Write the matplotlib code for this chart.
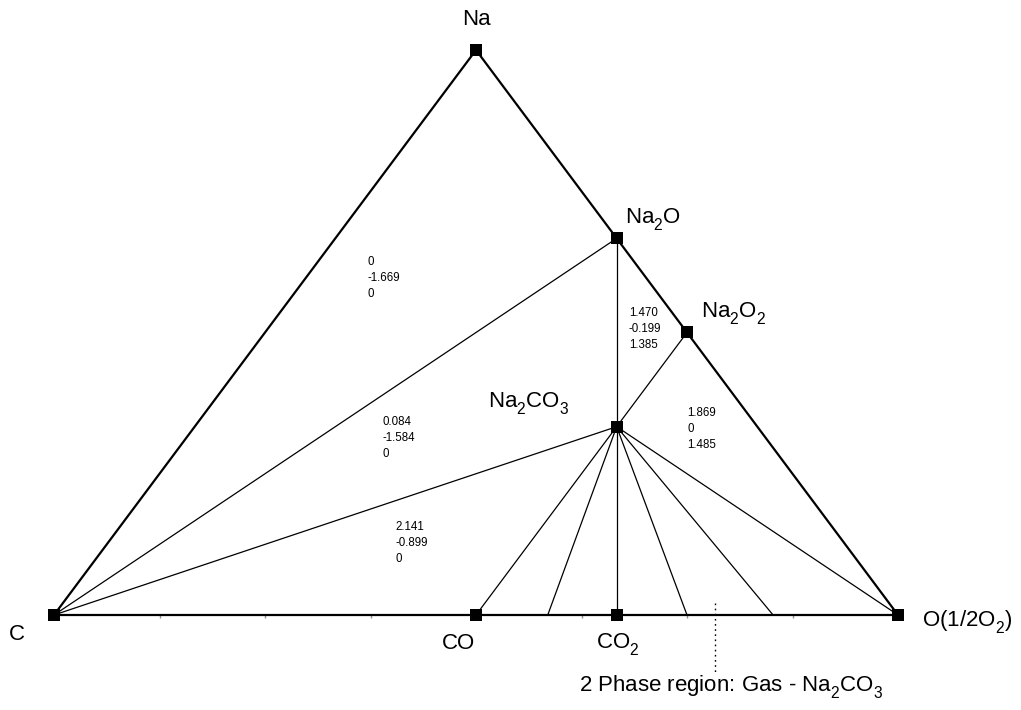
import matplotlib
matplotlib.use("Agg")
import matplotlib.pyplot as plt
import numpy as np
from matplotlib.mathtext import _mathtext

plt.rcParams['font.family'] = ['Liberation Sans', 'DejaVu Sans']
plt.rcParams['mathtext.fontset'] = 'custom'
plt.rcParams['mathtext.rm'] = 'Liberation Sans'
plt.rcParams['mathtext.default'] = 'regular'
# deeper subscripts, like the reference
_mathtext.FontConstantsBase.sub1 = 0.62

# ---- data ----
# phases: name -> atoms (Na, C, O)
phase_names = ["Na", "Na2O", "Na2O2", "Na2CO3", "C", "CO", "CO2", "O"]
phase_na = [1, 2, 2, 2, 0, 0, 0, 0]
phase_c = [0, 0, 0, 1, 1, 1, 1, 0]
phase_o = [0, 1, 2, 3, 0, 1, 2, 1]
phase_labels = ["Na", "Na$_2$O", "Na$_2$O$_2$", "Na$_2$CO$_3$", "C", "CO", "CO$_2$", "O(1/2O$_2$)"]

# outer boundary (thick)
edges = [("C", "O"), ("C", "Na"), ("Na", "Na2O"), ("Na2O", "Na2O2"), ("Na2O2", "O")]
# tie lines between phases (thin)
tie_lines = [("Na2O", "C"), ("Na2O", "Na2CO3"), ("Na2CO3", "C"), ("Na2CO3", "Na2O2"),
             ("Na2CO3", "CO"), ("Na2CO3", "CO2"), ("Na2CO3", "O")]
# gas compositions (O fraction along C-O edge) tied to Na2CO3
gas_o_fracs = [0.585, 0.750, 0.852]

# region energy labels: (text lines, x-frac, y-frac)
region_texts = ["0\n-1.669\n0", "1.470\n-0.199\n1.385", "1.869\n0\n1.485",
                "0.084\n-1.584\n0", "2.141\n-0.899\n0"]
region_x = [0.371, 0.681, 0.750, 0.389, 0.405]
region_y = [0.596, 0.506, 0.329, 0.313, 0.127]

base_tick_fracs = [k / 8 for k in range(1, 8)]
two_phase_x = 0.783
two_phase_text = "2 Phase region: Gas - Na$_2$CO$_3$"


def pos(name):
    i = phase_names.index(name)
    tot = phase_na[i] + phase_c[i] + phase_o[i]
    na = phase_na[i] / tot
    o = phase_o[i] / tot
    return o + na / 2.0, na


fig = plt.figure(figsize=(10.21, 7.10), dpi=100)
W, H = 1021, 710
ax = fig.add_axes([54 / W, (H - 615) / H, 844 / W, 565 / H])
ax.set_xlim(0, 1)
ax.set_ylim(0, 1)
for s in ax.spines.values():
    s.set_visible(False)
ax.set_yticks([])
ax.set_xticks(base_tick_fracs)
ax.set_xticklabels([])
ax.tick_params(axis='x', direction='out', length=2.5, width=1.0, color='#909090')

for a, b in edges:
    (x1, y1), (x2, y2) = pos(a), pos(b)
    ax.plot([x1, x2], [y1, y2], color='black', lw=1.6, solid_capstyle='butt', zorder=3, clip_on=False)

for a, b in tie_lines:
    (x1, y1), (x2, y2) = pos(a), pos(b)
    ax.plot([x1, x2], [y1, y2], color='black', lw=0.9, zorder=2, clip_on=False)

xs, ys = pos("Na2CO3")
for g in gas_o_fracs:
    ax.plot([xs, g], [ys, 0], color='black', lw=0.9, zorder=2, clip_on=False)

for n in phase_names:
    x, y = pos(n)
    ax.plot(x, y, marker='s', color='black', markersize=8.5, mew=0, zorder=5, clip_on=False)

fs = 16
label_specs = {
    "Na": (0.5, 1.045, 'center'),
    "Na2O": (0.6765, 0.692, 'left'),
    "Na2O2": (0.7666, 0.526, 'left'),
    "Na2CO3": (0.514, 0.368, 'left'),
    "C": (-0.0438, -0.044, 'center'),
    "CO": (0.479, -0.060, 'center'),
    "CO2": (0.668, -0.060, 'center'),
    "O": (1.028, -0.021, 'left'),
}
for n, lab in zip(phase_names, phase_labels):
    x, y, ha = label_specs[n]
    ax.text(x, y, lab, fontsize=fs, ha=ha, va='baseline', clip_on=False)

for t, x, y in zip(region_texts, region_x, region_y):
    ax.text(x, y, t, fontsize=8.3, ha='left', va='center', linespacing=1.45, multialignment='left')

ax.plot([two_phase_x, two_phase_x], [0.021, -0.101], color='black', lw=1.0,
        linestyle=(0, (1.2, 2.5)), clip_on=False)
ax.text(0.622, -0.136, two_phase_text, fontsize=fs, ha='left', va='baseline', clip_on=False)

fig.savefig("out.png", dpi=100)
